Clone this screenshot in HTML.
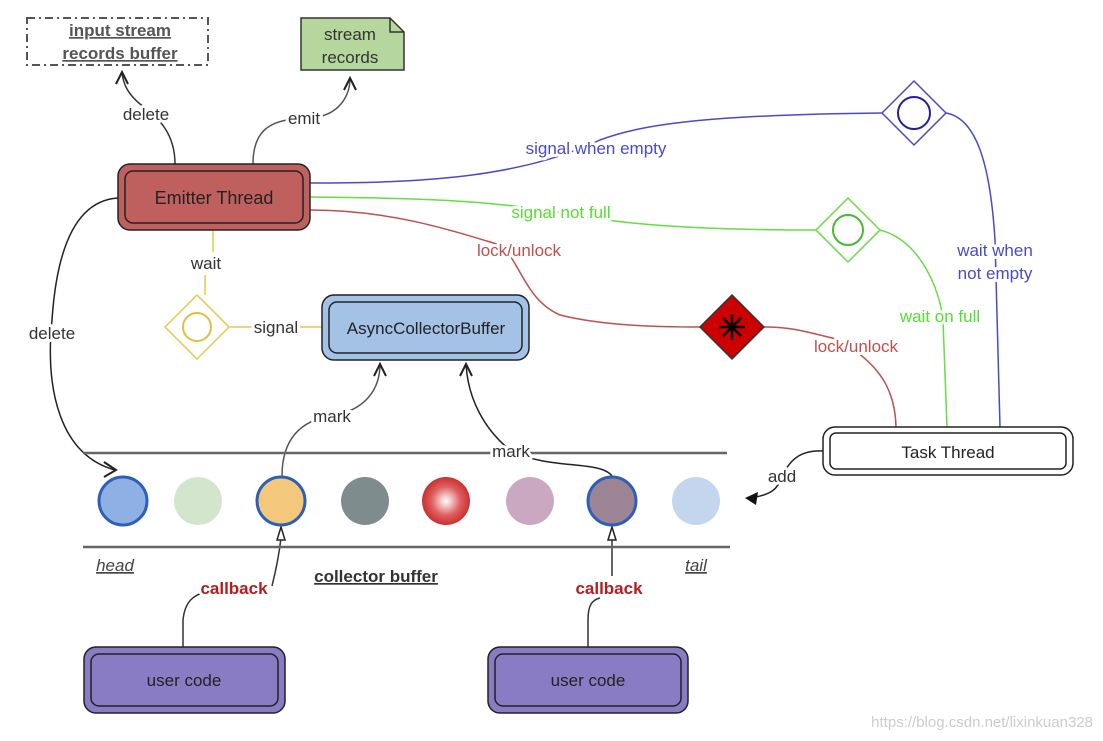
<!DOCTYPE html>
<html><head><meta charset="utf-8"><style>
html,body{margin:0;padding:0;background:#fff;}
svg{display:block;font-family:"Liberation Sans",sans-serif;}
.lb{paint-order:stroke;stroke:#fff;stroke-width:6px;stroke-linejoin:round;}
</style></head><body>
<svg width="1103" height="741" viewBox="0 0 1103 741" xmlns="http://www.w3.org/2000/svg">
<defs>
<radialGradient id="rg" cx="0.5" cy="0.5" r="0.5"><stop offset="0" stop-color="#fff"/><stop offset="0.6" stop-color="#e06060"/><stop offset="1" stop-color="#c83030"/></radialGradient>
</defs>
<g fill="none" stroke-width="1.5">
<path d="M175 164 C175 135 160 118 140 104 C128 94 123 84 122 72" stroke="#333"/>
<path d="M116 84 L122 72 L128 84" stroke="#222" stroke-width="2"/>
<path d="M253 164 C253 130 270 118 310 118 C340 116 350 95 350 78" stroke="#555"/>
<path d="M344 90 L350 78 L356 90" stroke="#222" stroke-width="2"/>
<path d="M118 198 C85 200 58 230 52 320 C45 390 60 455 115 470" stroke="#222"/>
<path d="M104 462 L116 470 L104 477" stroke="#222" stroke-width="2"/>
<path d="M282 476 C282 440 300 420 332 416 C365 410 380 390 380 364" stroke="#555"/>
<path d="M374 376 L380 364 L386 376" stroke="#222" stroke-width="2"/>
<path d="M612 476 C600 460 550 470 511 451 C485 430 468 400 466 364" stroke="#222"/>
<path d="M460 376 L466 364 L472 376" stroke="#222" stroke-width="2"/>
<path d="M823 451 C800 450 790 460 782 476 C778 490 770 495 750 498" stroke="#222"/>
<polygon points="745,498 758,492 756,505" fill="#111" stroke="none"/>
<path d="M183 647 L183 620 C185 600 195 595 205 592" stroke="#333"/>
<path d="M272 586 C276 570 279 555 281 538" stroke="#333"/>
<polygon points="281,527 277,540 285,540" fill="#fff" stroke="#222" stroke-width="1.5"/>
<path d="M588 647 L588 620 C588 605 592 600 600 598" stroke="#333"/>
<path d="M612 576 L612 538" stroke="#333"/>
<polygon points="612,527 608,540 616,540" fill="#fff" stroke="#222" stroke-width="1.5"/>
<path d="M213 230 L213 252 M205 275 L205 295 M230 327 L322 327" stroke="#e8c84a"/>
<path d="M310 183 C420 183 520 178 600 140 C640 125 700 115 882 113" stroke="#4a4ac8"/>
<path d="M946 113 C975 118 990 160 995 240 L1000 427" stroke="#4a4ac8"/>
<path d="M310 197 C420 198 480 200 560 212 C620 225 700 230 816 230" stroke="#66dd44"/>
<path d="M880 230 C920 240 940 290 943 320 L947 427" stroke="#66dd44"/>
<path d="M310 210 C390 210 450 230 500 245 C520 260 525 300 560 315 C600 325 650 327 700 327" stroke="#c0504d"/>
<path d="M764 327 C790 327 800 330 840 340 C870 360 895 380 896 427" stroke="#c0504d"/>
<path d="M83 453 L727 453 M83 547 L730 547" stroke="#666" stroke-width="2.5"/>
</g>
<rect x="27" y="18" width="181" height="47" fill="#fff" stroke="#555" stroke-width="2" stroke-dasharray="8,4,2,4"/>
<text x="120" y="36" font-size="17" font-weight="bold" fill="#555" text-anchor="middle" text-decoration="underline">input stream</text>
<text x="120" y="59" font-size="17" font-weight="bold" fill="#555" text-anchor="middle" text-decoration="underline">records buffer</text>
<path d="M301 18 L390 18 L404 32 L404 70 L301 70 Z" fill="#b5d79d" stroke="#333" stroke-width="1.5"/>
<path d="M390 18 L390 32 L404 32" fill="none" stroke="#333" stroke-width="1.5"/>
<text x="350" y="40" font-size="17" fill="#333" text-anchor="middle">stream</text>
<text x="350" y="63" font-size="17" fill="#333" text-anchor="middle">records</text>
<rect x="118" y="164" width="192" height="66" rx="12" fill="#c0605e" stroke="#222" stroke-width="1.5"/>
<rect x="125" y="171" width="178" height="52" rx="8" fill="none" stroke="#222" stroke-width="1.5"/>
<text x="214" y="204" font-size="18" fill="#222" text-anchor="middle">Emitter Thread</text>
<rect x="322" y="295" width="207" height="65" rx="12" fill="#a4c2e6" stroke="#222" stroke-width="1.5"/>
<rect x="329" y="302" width="193" height="51" rx="8" fill="none" stroke="#222" stroke-width="1.5"/>
<text x="426" y="334" font-size="17" fill="#222" text-anchor="middle">AsyncCollectorBuffer</text>
<rect x="823" y="427" width="250" height="48" rx="12" fill="#fff" stroke="#222" stroke-width="1.5"/>
<rect x="830" y="433" width="236" height="36" rx="6" fill="none" stroke="#222" stroke-width="1.5"/>
<text x="948" y="458" font-size="17" fill="#222" text-anchor="middle">Task Thread</text>
<rect x="84" y="647" width="201" height="66" rx="12" fill="#8a7cc4" stroke="#222" stroke-width="1.5"/>
<rect x="91" y="654" width="187" height="52" rx="8" fill="none" stroke="#222" stroke-width="1.5"/>
<text x="184" y="686" font-size="17" fill="#222" text-anchor="middle">user code</text>
<rect x="488" y="647" width="200" height="66" rx="12" fill="#8a7cc4" stroke="#222" stroke-width="1.5"/>
<rect x="495" y="654" width="186" height="52" rx="8" fill="none" stroke="#222" stroke-width="1.5"/>
<text x="588" y="686" font-size="17" fill="#222" text-anchor="middle">user code</text>
<polygon points="197,295 229,327 197,359 165,327" fill="#fff" stroke="#e8c84a" stroke-width="1.5"/>
<circle cx="197" cy="327" r="14" fill="none" stroke="#e0c040" stroke-width="2"/>
<polygon points="914,81 946,113 914,145 882,113" fill="#fff" stroke="#4a4ac8" stroke-width="1.5"/>
<circle cx="914" cy="113" r="16" fill="none" stroke="#2020a0" stroke-width="2"/>
<polygon points="848,198 880,230 848,262 816,230" fill="#fff" stroke="#66dd44" stroke-width="1.5"/>
<circle cx="848" cy="230" r="15" fill="none" stroke="#44bb33" stroke-width="2"/>
<polygon points="732,295 764,327 732,359 700,327" fill="#cc0000" stroke="#333" stroke-width="1.5"/>
<g stroke="#000" stroke-width="2.5"><path d="M732 314 L732 340 M719 327 L745 327 M723 318 L741 336 M741 318 L723 336"/></g>
<circle cx="123" cy="501" r="24" fill="#8fb0e3" stroke="#2d5fb8" stroke-width="3"/>
<circle cx="198" cy="501" r="24" fill="#d3e6cd"/>
<circle cx="281" cy="501" r="24" fill="#f3c87a" stroke="#2d5fb8" stroke-width="3"/>
<circle cx="365" cy="501" r="24" fill="#7f8c8d"/>
<circle cx="446" cy="501" r="24" fill="url(#rg)"/>
<circle cx="530" cy="501" r="24" fill="#caa8c2"/>
<circle cx="612" cy="501" r="24" fill="#9c8494" stroke="#2d5fb8" stroke-width="3"/>
<circle cx="696" cy="501" r="24" fill="#c3d6ee"/>
<g font-size="17" text-anchor="middle">
<text class="lb" x="146" y="120" fill="#333">delete</text>
<text class="lb" x="304" y="124" fill="#333">emit</text>
<text class="lb" x="52" y="339" fill="#333">delete</text>
<text class="lb" x="206" y="269" fill="#333">wait</text>
<text class="lb" x="276" y="333" fill="#333">signal</text>
<text class="lb" x="332" y="422" fill="#333">mark</text>
<text class="lb" x="511" y="457" fill="#333">mark</text>
<text class="lb" x="782" y="482" fill="#333">add</text>
<text class="lb" x="596" y="154" fill="#4a4ac8">signal when empty</text>
<text class="lb" x="561" y="218" fill="#55dd33">signal not full</text>
<text class="lb" x="519" y="256" fill="#c0504d">lock/unlock</text>
<text class="lb" x="856" y="352" fill="#c0504d">lock/unlock</text>
<text class="lb" x="940" y="322" fill="#55dd33">wait on full</text>
<text class="lb" x="995" y="256" fill="#4a4ac8">wait when</text>
<text class="lb" x="995" y="279" fill="#4a4ac8">not empty</text>
<text class="lb" x="234" y="594" fill="#b02020" font-weight="bold">callback</text>
<text class="lb" x="609" y="594" fill="#b02020" font-weight="bold">callback</text>
<text x="115" y="571" fill="#444" font-style="italic" text-decoration="underline">head</text>
<text x="696" y="571" fill="#444" font-style="italic" text-decoration="underline">tail</text>
<text x="376" y="582" fill="#333" font-weight="bold" text-decoration="underline">collector buffer</text>
</g>
<text x="1093" y="727" font-size="15" fill="#ccc" text-anchor="end">https://blog.csdn.net/lixinkuan328</text>
</svg>
</body></html>
